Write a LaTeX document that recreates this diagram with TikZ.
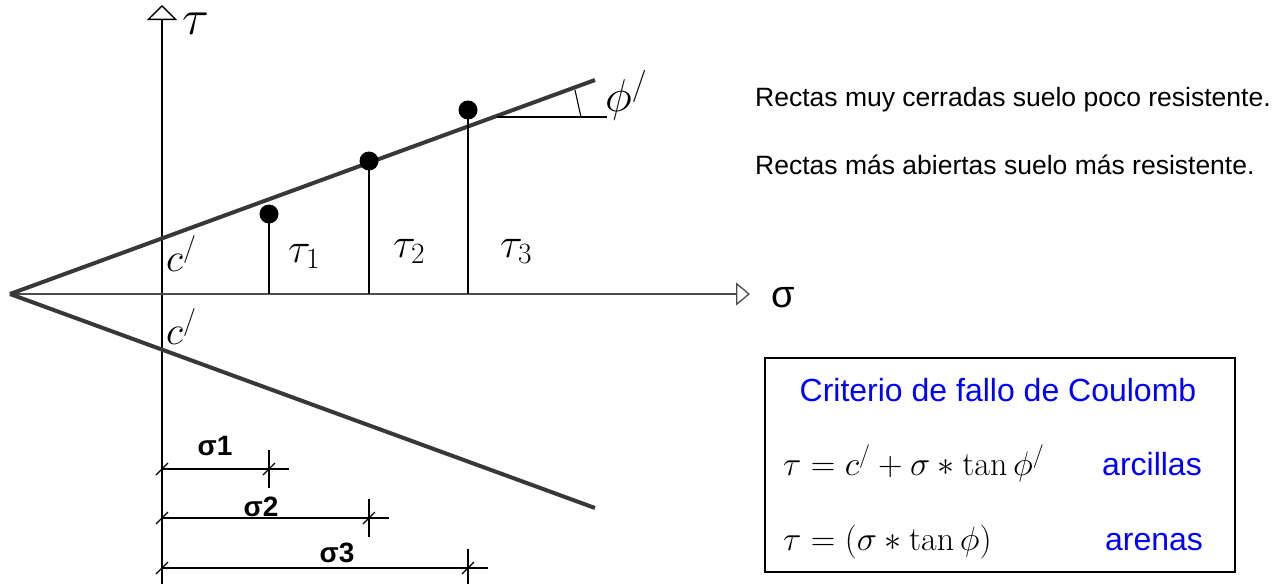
\RequirePackage{fix-cm}
\documentclass[tikz,border=0pt]{standalone}
\usepackage{amsmath,amssymb}
\usepackage{fontspec}
\setsansfont{Liberation Sans}
\usetikzlibrary{arrows.meta}

\newcommand{\fsz}[1]{\fontsize{#1}{#1}\selectfont}

\begin{document}
\begin{tikzpicture}[x=1pt, y=-1pt, every node/.style={inner sep=0pt},
	axis/.style={line width=1.3pt},
	thin/.style={line width=1.1pt},
	envelope/.style={line width=4pt, black!78}]
	\useasboundingbox (0,0) rectangle (1286,584);
	% ejes
	\coordinate (O) at (162,294);
	\coordinate (V) at (10,294);
	\coordinate (Tbot) at (162,584);
	\coordinate (Ttop) at (162,5);
	\coordinate (Send) at (750,294);
	\draw[axis, -{Triangle[open, length=15pt, width=30pt]}] (Tbot) -- (Ttop);
	\draw[axis, black!70, -{Triangle[open, length=14pt, width=23pt]}] (V) -- (Send);
	\node[anchor=base west] (tau) at (182,34) {\fsz{50}$\tau$};
	\node[font=\sffamily] (sigma) at (783,298) {\fsz{38}σ};
	% rectas de rotura
	\coordinate (Up) at (595,80);
	\coordinate (Lo) at (595,508);
	\draw[envelope] (V) -- (Up);
	\draw[envelope] (V) -- (Lo);
	\node[anchor=base west] (cup) at (166,271) {\fsz{40}$c^{/}$};
	\node[anchor=base west] (clo) at (166,344) {\fsz{40}$c^{/}$};
	% puntos de ensayo
	\foreach \i/\x/\y in {1/269/214, 2/369/161, 3/468/110} {
		\coordinate (P\i) at (\x,\y);
		\coordinate (F\i) at (\x,294);
		\draw[thin] (P\i) -- (F\i);
		\fill (P\i) circle (9.5pt);
	}
	\node[anchor=base west] at (288,262) {\fsz{42}$\tau_1$};
	\node[anchor=base west] at (393,257) {\fsz{42}$\tau_2$};
	\node[anchor=base west] at (500,257) {\fsz{42}$\tau_3$};
	% angulo
	\coordinate (A0) at (497,117);
	\coordinate (A1) at (607,117);
	\coordinate (A2) at (575,90);
	\coordinate (A3) at (581,117);
	\draw[thin] (A0) -- (A1);
	\draw[thin] (A2) -- (A3);
	\node[anchor=base west] (phi) at (605,111) {\fsz{46}$\phi^{/}$};
	% textos
	\node[anchor=base west, font=\sffamily] at (755,106) {\fsz{26.5}Rectas muy cerradas suelo poco resistente.};
	\node[anchor=base west, font=\sffamily] at (755,174) {\fsz{26.5}Rectas más abiertas suelo más resistente.};
	% cuadro
	\draw[line width=1.6pt] (765,358) rectangle (1235,572);
	\node[anchor=base, blue, font=\sffamily] at (998,401) {\fsz{32}Criterio de fallo de Coulomb};
	\node[anchor=base west] at (783,475) {\fsz{34}$\tau = c^{/} + \sigma * \tan\phi^{/}$};
	\node[anchor=base west] at (783,550) {\fsz{34}$\tau = (\sigma * \tan\phi)$};
	\node[anchor=base, blue, font=\sffamily] at (1152,475) {\fsz{32}arcillas};
	\node[anchor=base, blue, font=\sffamily] at (1154,550) {\fsz{32}arenas};
	% cotas
	\foreach \i/\x/\y/\lx/\ly in {1/269/469/215/446, 2/369/518/261/507, 3/468/568/337/553} {
		\draw[thin] (162,\y) -- (\x+20,\y);
		\draw[thin] (\x,\y-19) -- (\x,\y+19);
		\draw[thin] (156,\y+6) -- (168,\y-6);
		\draw[thin] (\x-6,\y+6) -- (\x+6,\y-6);
		\node[font=\sffamily\bfseries] at (\lx,\ly) {\fsz{28}σ\i};
	}
\end{tikzpicture}
\end{document}
